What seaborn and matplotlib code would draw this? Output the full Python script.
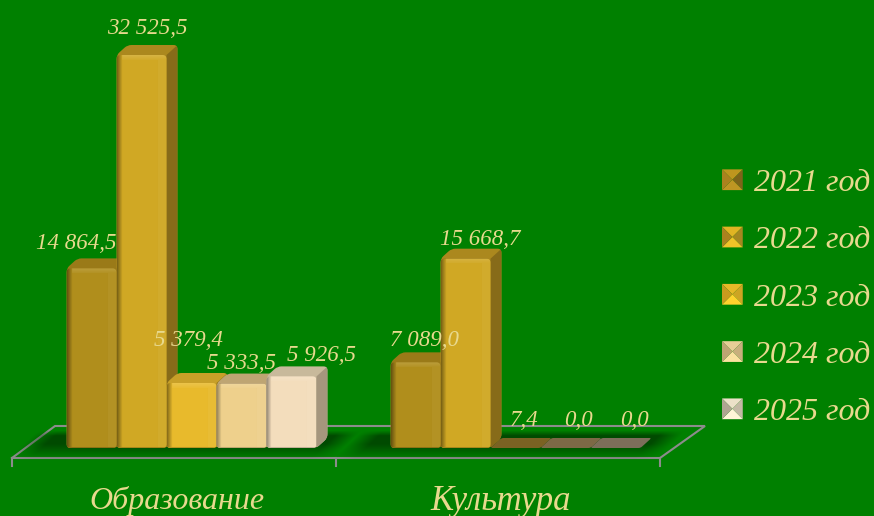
import numpy as np
import pandas as pd
import seaborn as sns
import matplotlib
matplotlib.use('Agg')
import matplotlib.pyplot as plt
from matplotlib.path import Path
from matplotlib.patches import PathPatch, Polygon, Patch
from matplotlib.transforms import Affine2D
from matplotlib.legend_handler import HandlerBase

# chart values
categories = ['Образование', 'Культура']
years = ['2021 год', '2022 год', '2023 год', '2024 год', '2025 год']
education = [14864.5, 32525.5, 5379.4, 5333.5, 5926.5]
culture = [7089.0, 15668.7, 7.4, 0.0, 0.0]

# colours per year
front_colors = ['#b08e1c', '#d0a824', '#e8ba2c', '#eed08c', '#f3ddbc']
top_colors = ['#9a7a18', '#ab881e', '#c8a028', '#bea573', '#c8b99b']
side_colors = ['#7e6417', '#876b19', '#9a7b1e', '#ab9468', '#a5967d']
flat_colors = ['#6f5a1e', '#75601f', '#7a6223', '#7d6946', '#7d6e5a']
# legend squares: top, right, bottom, left
pyramid_colors = [
    ['#be961e', '#7d6419', '#be9623', '#aa821e'],
    ['#e1b423', '#a58720', '#f0c328', '#aa821e'],
    ['#e6b928', '#cda523', '#ffd22d', '#c89b1e'],
    ['#e6cd96', '#c8af7d', '#fae1a0', '#bea573'],
    ['#ebe1c8', '#c3b9a5', '#fff5d7', '#afa591'],
]

BG = '#008000'
TXT = '#e8d98e'
GRID = '#8c8c8c'
W, H = 874, 516
DX, DY = 11, 10  # depth of the boxes
FONT = ['Liberation Serif', 'DejaVu Serif']

df = pd.DataFrame({
    'category': np.repeat(categories, len(years)),
    'year': years * 2,
    'value': education + culture,
})

fig = plt.figure(figsize=(W / 100, H / 100), dpi=100, facecolor=BG)
ax = fig.add_axes([0, 0, 1, 1])
sns.barplot(data=df, x='category', y='value', hue='year', palette=front_colors,
            saturation=1, width=0.7716, gap=0, legend=False, ax=ax, zorder=3)

# axes cover the whole figure: category 0 at px 191.5, 1 at 515.5; value 0 at px 448
per_px = 32525.5 / 393
ax.set_xlim((0 - 191.5) / 324, (W - 191.5) / 324)
ax.set_ylim(-(H - 448) * per_px, 448 * per_px)
ax.axis('off')

pix = Affine2D().scale(1, -1).translate(0, H)  # screen pixels, y going down


def rounded(points, r=4):
    verts, codes = [], []
    pts = np.array(points, float)
    n = len(pts)
    for i in range(n):
        p, a, b = pts[i], pts[i - 1], pts[(i + 1) % n]
        ra = min(r, np.linalg.norm(a - p) / 2)
        rb = min(r, np.linalg.norm(b - p) / 2)
        p1 = p + (a - p) / np.linalg.norm(a - p) * ra
        p2 = p + (b - p) / np.linalg.norm(b - p) * rb
        verts += [p1, p, p2]
        codes += [Path.MOVETO if i == 0 else Path.LINETO, Path.CURVE3, Path.CURVE3]
    verts.append(verts[0])
    codes.append(Path.CLOSEPOLY)
    return Path(verts, codes)


# floor
floor = [(12, 458), (55, 426), (705, 426), (660, 458), (12, 458)]
ax.plot(*zip(*floor), transform=pix, color=GRID, lw=1.5, zorder=1, solid_joinstyle='miter')
for tx in (12, 336, 660):
    ax.plot([tx, tx], [458, 466], transform=pix, color=GRID, lw=1.5, zorder=1)

# soft shadow on the floor
yy, xx = np.mgrid[428:462, 15:695]
sh = np.zeros(xx.shape)
for x0, x1 in ((28, 352), (352, 676)):
    u = xx + (yy - 440) * 1.1
    sh = np.maximum(sh, np.clip((u - x0) / 22, 0, 1) * np.clip((x1 - u) / 22, 0, 1))
sh = sh * np.clip((yy - 431) / 5, 0, 1) * np.clip((459 - yy) / 15, 0, 1)
rgba = np.zeros(xx.shape + (4,))
rgba[..., 1] = 0.22
rgba[..., 3] = sh * 0.75
inv = ax.transData.inverted()
(ex0, ey0), (ex1, ey1) = inv.transform(pix.transform([(15, 462), (695, 428)]))
ax.imshow(rgba, extent=(ex0, ex1, ey0, ey1), aspect='auto', zorder=1.5, interpolation='bilinear')

# 3d look for every bar, left to right so the next front covers the previous side
bars = []
for i, cont in enumerate(ax.containers):
    for b in cont:
        bars.append((b, i))
bars.sort(key=lambda t: t[0].get_x())

z = 3
for b, i in bars:
    (L, B), (R, T) = pix.inverted().transform(ax.transData.transform(
        [(b.get_x(), 0), (b.get_x() + b.get_width(), b.get_height())]))
    z += 1
    b.set_zorder(z + 0.3)
    if B - T < 1:
        flat = [(L, B), (L + DX, B - DY), (R + DX, B - DY), (R, B)]
        ax.add_patch(PathPatch(rounded(flat, 2), transform=pix, fc=flat_colors[i], ec='none', zorder=z))
        b.set_visible(False)
        continue
    outline = [(L, B), (L, T), (L + DX, T - DY), (R + DX, T - DY), (R + DX, B - DY), (R, B)]
    back = PathPatch(rounded(outline), transform=pix, fc=top_colors[i], ec='none', zorder=z)
    ax.add_patch(back)
    side = Polygon([(R, T), (R + DX, T - DY), (R + DX, B - DY), (R, B)], transform=pix,
                   fc=side_colors[i], ec='none', zorder=z + 0.1)
    ax.add_patch(side)
    side.set_clip_path(back)
    # front with rounded top, bevel as an image over the flat seaborn bar
    clip = PathPatch(rounded([(L, B), (L, T), (R, T), (R, B)]), transform=pix, fc='none', ec='none', zorder=z)
    ax.add_patch(clip)
    b.set_clip_path(clip)
    w, h = int(R - L), max(int(B - T), 2)
    img = np.zeros((h, w, 4))
    for k in range(5):  # dark left edge
        img[:, k, 3] = 0.4 * (1 - k / 5)
    img[:, -9:, :3] = 1  # lighter right strip
    img[:, -9:, 3] = 0.04
    for k in range(5):  # light band at the top
        img[k, 5:, :3] = 1
        img[k, 5:, 3] = 0.14 * (1 - k / 6)
    img[-1, :, :3] = 0
    img[-1, :, 3] = 0.2
    im = ax.imshow(img, extent=(b.get_x(), b.get_x() + b.get_width(), 0, b.get_height()),
                   aspect='auto', zorder=z + 0.4, interpolation='bilinear')
    im.set_clip_path(clip)

# value labels sit where they were moved by hand in the original (dx, dy in px)
label_shift = [(-15, 25), (6, 27), (-3, 43), (0, 20), (30, 21),
               (9, 22), (15, 19), (9, 27), (13, 27), (19, 27)]
for (b, i), (sx, sy) in zip(bars, label_shift):
    txt = f'{b.get_height():,.1f}'.replace(',', ' ').replace('.', ',')
    ax.annotate(txt, (b.get_x() + b.get_width() / 2, b.get_height()),
                xytext=(sx, sy), textcoords='offset pixels', ha='center', va='center',
                color=TXT, family=FONT, style='italic', fontsize=16.5, zorder=50,
                annotation_clip=False)

# category labels
for c, lab in enumerate(categories):
    ax.annotate(lab, (c, 0), xytext=(-15, -53), textcoords='offset pixels',
                ha='center', va='center', color=TXT, family=FONT, style='italic',
                fontsize=23 if c == 0 else 25, zorder=50)


class PyramidHandler(HandlerBase):
    def create_artists(self, legend, orig_handle, xdescent, ydescent, width, height, fontsize, trans):
        cols = orig_handle.pyramid
        s = min(width, height)
        x0, y0 = -xdescent, -ydescent + (height - s) / 2
        x1, y1 = x0 + s, y0 + s
        c = (x0 + s / 2, y0 + s / 2)
        sides = [[(x0, y1), (x1, y1), c], [(x1, y1), (x1, y0), c],
                 [(x1, y0), (x0, y0), c], [(x0, y0), (x0, y1), c]]
        return [Polygon(p, fc=col, ec='none', transform=trans) for p, col in zip(sides, cols)]


handles = []
for cols in pyramid_colors:
    h = Patch()
    h.pyramid = cols
    handles.append(h)
leg = ax.legend(handles, years, handler_map={Patch: PyramidHandler()}, frameon=False,
                loc='center left', bbox_to_anchor=(722 / W, 1 - 298 / H), bbox_transform=fig.transFigure,
                prop={'family': FONT, 'style': 'italic', 'size': 23}, labelcolor=TXT,
                labelspacing=0.885, handlelength=0.65, handleheight=0.65, handletextpad=0.35,
                borderpad=0, borderaxespad=0)
leg.set_zorder(60)

fig.savefig('out.png', dpi=100, facecolor=BG)
